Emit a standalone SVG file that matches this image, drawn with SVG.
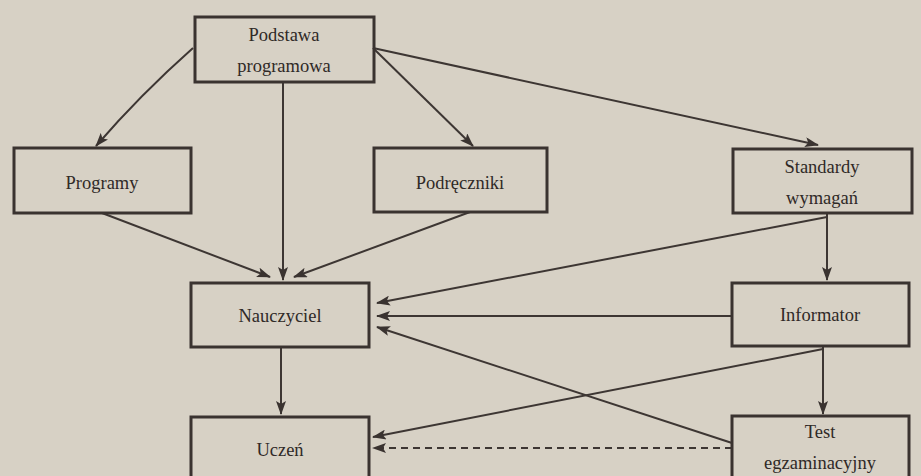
<svg xmlns="http://www.w3.org/2000/svg" width="921" height="476" viewBox="0 0 921 476">
<style>
.box{fill:none;stroke:#3a3330;stroke-width:3}
.lbl{font-family:"Liberation Serif","Times New Roman",serif;font-size:18.5px;fill:#2f2927;text-anchor:middle}
.ln{fill:none;stroke:#3d3633;stroke-width:2}
.dash{stroke-dasharray:7,5}
</style>
<defs>
<marker id="ah" markerUnits="userSpaceOnUse" markerWidth="14" markerHeight="10" refX="13" refY="5" orient="auto">
<path d="M0,0 L14,5 L0,10 L3,5 Z" fill="#3a3330"/>
</marker>
</defs>
<rect x="0" y="0" width="921" height="476" fill="#d7d1c5"/>
<g id="connectors">
<path class="ln" d="M193,48 Q140,95 96,146" marker-end="url(#ah)"/>
<path class="ln" d="M283,82 L283,280" marker-end="url(#ah)"/>
<path class="ln" d="M373,48 L473,146" marker-end="url(#ah)"/>
<path class="ln" d="M373,48 L818,145" marker-end="url(#ah)"/>
<path class="ln" d="M102,213 L270,277" marker-end="url(#ah)"/>
<path class="ln" d="M470,212 L294,277" marker-end="url(#ah)"/>
<path class="ln" d="M827,213 L827,280" marker-end="url(#ah)"/>
<path class="ln" d="M827,217 L377,303" marker-end="url(#ah)"/>
<path class="ln" d="M732,316 L377,316" marker-end="url(#ah)"/>
<path class="ln" d="M823,346 L823,414" marker-end="url(#ah)"/>
<path class="ln" d="M823,349 L373,437" marker-end="url(#ah)"/>
<path class="ln" d="M732,443 L377,327" marker-end="url(#ah)"/>
<path class="ln dash" d="M732,448 L373,448" marker-end="url(#ah)"/>
<path class="ln" d="M281,347 L281,414" marker-end="url(#ah)"/>
</g>
<g id="podstawa">
<rect class="box" x="195" y="17" width="179" height="65"/>
<text class="lbl" x="284" y="41">Podstawa</text>
<text class="lbl" x="284" y="72">programowa</text>
</g>
<g id="programy">
<rect class="box" x="14" y="148" width="177" height="65"/>
<text class="lbl" x="102" y="189">Programy</text>
</g>
<g id="podreczniki">
<rect class="box" x="374" y="148" width="173" height="64"/>
<text class="lbl" x="460" y="189">Podręczniki</text>
</g>
<g id="standardy">
<rect class="box" x="733" y="149" width="179" height="64"/>
<text class="lbl" x="822" y="173">Standardy</text>
<text class="lbl" x="822" y="204">wymagań</text>
</g>
<g id="nauczyciel">
<rect class="box" x="191" y="283" width="178" height="64"/>
<text class="lbl" x="280" y="322">Nauczyciel</text>
</g>
<g id="informator">
<rect class="box" x="732" y="283" width="177" height="63"/>
<text class="lbl" x="820" y="321">Informator</text>
</g>
<g id="uczen">
<rect class="box" x="191" y="417" width="178" height="72"/>
<text class="lbl" x="280" y="456">Uczeń</text>
</g>
<g id="test">
<rect class="box" x="732" y="416" width="177" height="72"/>
<text class="lbl" x="820" y="438">Test</text>
<text class="lbl" x="820" y="469">egzaminacyjny</text>
</g>
</svg>
